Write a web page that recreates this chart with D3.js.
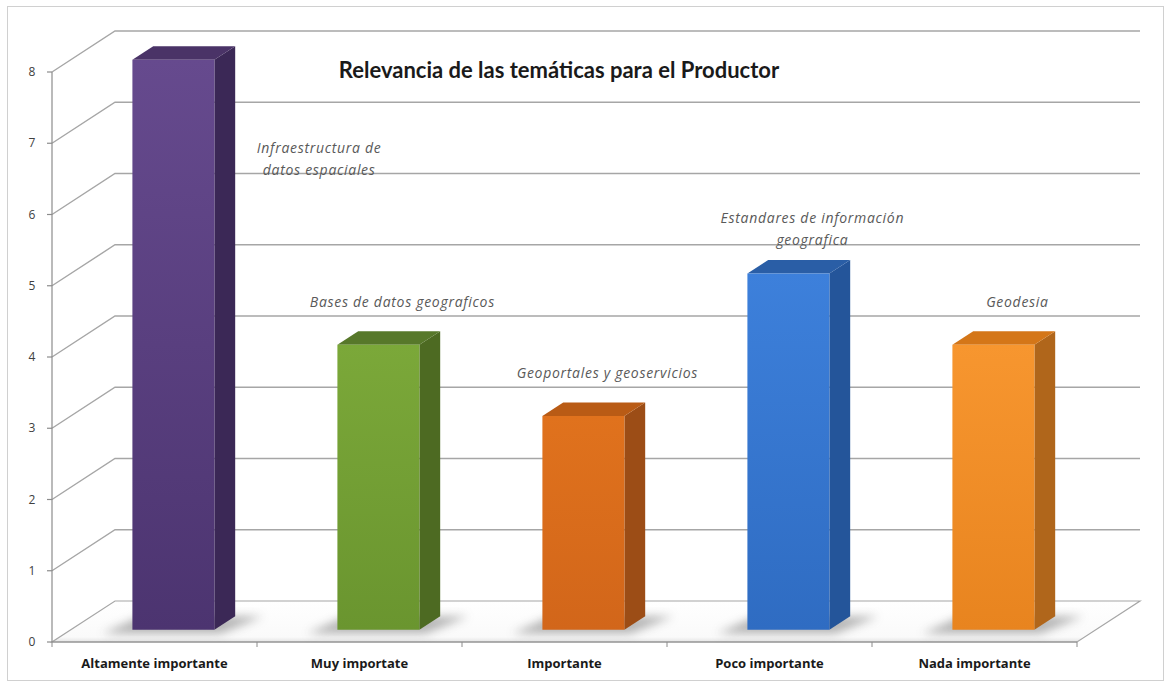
<!DOCTYPE html>
<html>
<head>
<meta charset="utf-8">
<script src="https://cdn.jsdelivr.net/npm/d3@7"></script>
<style>
  html, body { margin: 0; padding: 0; background: #fff; }
  svg { display: block; }
</style>
</head>
<body>
<svg id="chart" width="1171" height="684"></svg>
<script>
// ---- data ----
const categories = ["Altamente importante", "Muy importate", "Importante", "Poco importante", "Nada importante"];
const values = [8, 4, 3, 5, 4];
const barLabels = ["Infraestructura de\ndatos espaciales", "Bases de datos geograficos", "Geoportales y geoservicios", "Estandares de información\ngeografica", "Geodesia"];
const yTicks = [0, 1, 2, 3, 4, 5, 6, 7, 8];
const title = "Relevancia de las temáticas para el Productor";

// ---- styles ----
const barColors = [
  { top: "#4a3367", front: ["#664a8e", "#4c3470"], side: "#3b2856" },
  { top: "#57782a", front: ["#7ba839", "#6a952f"], side: "#4d6a22" },
  { top: "#b95b15", front: ["#e0721d", "#d2661a"], side: "#9c4d16" },
  { top: "#2a5ea6", front: ["#3d80db", "#2f6cc2"], side: "#24559a" },
  { top: "#d47618", front: ["#f7962f", "#e8841f"], side: "#b0661b" }
];

const svg = d3.select("#chart");

// border
svg.append("rect").attr("x", 7.5).attr("y", 6.5).attr("width", 1156).attr("height", 674)
  .attr("fill", "#fff").attr("stroke", "#d0d0d0").attr("stroke-width", 1);

// ---- projection ----
const frontLeft = 52, frontRight = 1077;
const depth = { dx: 63, dy: -41 };
const x = d3.scaleBand().domain(categories).range([frontLeft, frontRight]);
const y = d3.scaleLinear().domain([0, 8]).range([642, 72]);
const P = (px, py, d) => [px + depth.dx * d, py + depth.dy * d];

const defs = svg.append("defs");
const blur = defs.append("filter").attr("id", "blur").attr("x", "-50%").attr("y", "-50%").attr("width", "200%").attr("height", "200%");
blur.append("feGaussianBlur").attr("stdDeviation", 5);

const grid = svg.append("g");
const gridColor = "#a6a6a6";

// back wall + side wall gridlines
yTicks.forEach(t => {
  if (t === 0) return;
  const f = [frontLeft, y(t)];
  const b = P(frontLeft, y(t), 1);
  const br = P(frontRight, y(t), 1);
  grid.append("path")
    .attr("d", d3.line()([f, b, br]))
    .attr("fill", "none").attr("stroke", gridColor).attr("stroke-width", 1.4);
});

// floor
const fl = [[frontLeft, y(0)], [frontRight, y(0)], P(frontRight, y(0), 1), P(frontLeft, y(0), 1)];
const floorGrad = defs.append("linearGradient").attr("id", "floorGrad").attr("x1", 0).attr("y1", 1).attr("x2", 0).attr("y2", 0);
floorGrad.append("stop").attr("offset", "0").attr("stop-color", "#e4e4e4");
floorGrad.append("stop").attr("offset", "0.12").attr("stop-color", "#fafafa");
floorGrad.append("stop").attr("offset", "1").attr("stop-color", "#ffffff");
grid.append("path").attr("d", d3.line()(fl) + "Z")
  .attr("fill", "url(#floorGrad)").attr("stroke", gridColor).attr("stroke-width", 1.2);

// y axis
const ax = svg.append("g");
ax.append("line").attr("x1", frontLeft).attr("x2", frontLeft).attr("y1", y(8)).attr("y2", y(0))
  .attr("stroke", "#8c8c8c").attr("stroke-width", 1.2);
yTicks.forEach(t => {
  ax.append("line").attr("x1", frontLeft - 5).attr("x2", frontLeft).attr("y1", y(t)).attr("y2", y(t))
    .attr("stroke", "#8c8c8c").attr("stroke-width", 1.2);
  ax.append("text").attr("x", frontLeft - 20).attr("y", y(t)).attr("dy", "0.35em")
    .attr("text-anchor", "middle").attr("font-family", "'Open Sans', Lato, sans-serif")
    .attr("font-size", 12).attr("fill", "#404040").text(t);
});
// x axis ticks
const bounds = categories.map(c => x(c)).concat([frontRight]);
bounds.forEach(b => {
  ax.append("line").attr("x1", b).attr("x2", b).attr("y1", y(0)).attr("y2", y(0) + 5)
    .attr("stroke", "#8c8c8c").attr("stroke-width", 1);
});
ax.append("line").attr("x1", frontLeft).attr("x2", frontRight).attr("y1", y(0)).attr("y2", y(0))
  .attr("stroke", "#8c8c8c").attr("stroke-width", 1.2);
categories.forEach(c => {
  ax.append("text").attr("x", x(c) + x.bandwidth() / 2).attr("y", 668)
    .attr("text-anchor", "middle").attr("font-family", "'Open Sans', Lato, sans-serif")
    .attr("font-weight", "bold").attr("font-size", 13).attr("fill", "#1a1a1a").text(c);
});

// ---- bars ----
const barW = x.bandwidth() * 0.4;
const dFront = 0.30, dBack = 0.63;
const bars = svg.append("g");
categories.forEach((c, i) => {
  const col = barColors[i];
  const cx = x(c) + x.bandwidth() / 2;
  const x0 = cx - barW / 2, x1 = cx + barW / 2;
  const yb = y(0), yt = y(values[i]);
  const f0b = P(x0, yb, dFront), f1b = P(x1, yb, dFront), f0t = P(x0, yt, dFront), f1t = P(x1, yt, dFront);
  const b0b = P(x0, yb, dBack), b1b = P(x1, yb, dBack), b0t = P(x0, yt, dBack), b1t = P(x1, yt, dBack);
  // shadow
  bars.append("path")
    .attr("d", d3.line()([[f0b[0] - 30, f0b[1] + 4], [f1b[0] + 6, f1b[1] + 4], [b1b[0] + 28, b1b[1]], [b0b[0] - 12, b0b[1]]]) + "Z")
    .attr("fill", "#6e6e6e").attr("opacity", 0.5).attr("filter", "url(#blur)");
  const g = defs.append("linearGradient").attr("id", "fg" + i).attr("x1", 0).attr("y1", 0).attr("x2", 0).attr("y2", 1);
  g.append("stop").attr("offset", 0).attr("stop-color", col.front[0]);
  g.append("stop").attr("offset", 1).attr("stop-color", col.front[1]);
  bars.append("path").attr("d", d3.line()([f1b, b1b, b1t, f1t]) + "Z").attr("fill", col.side);
  bars.append("path").attr("d", d3.line()([f0t, f1t, b1t, b0t]) + "Z").attr("fill", col.top);
  bars.append("path").attr("d", d3.line()([f0b, f1b, f1t, f0t]) + "Z").attr("fill", "url(#fg" + i + ")");

  // label
  const lines = barLabels[i].split("\n");
  const lh = 22;
  let lx, ly;
  if (values[i] >= 7) { // no room above: place beside the bar
    lx = b1t[0] + 84; ly = f0t[1] + 93;
  } else {
    lx = (f0t[0] + f1t[0]) / 2 + 24;
    ly = f0t[1] - 38 - (lines.length - 1) * lh;
    if (lines.length > 1) ly += 10;
  }
  const t = bars.append("text").attr("text-anchor", "middle")
    .attr("font-family", "'Open Sans', Lato, sans-serif").attr("font-style", "italic")
    .attr("font-size", 14).attr("letter-spacing", 0.7).attr("fill", "#595959");
  lines.forEach((ln, k) => t.append("tspan").attr("x", lx).attr("y", ly + k * lh).text(ln));
});

// title
svg.append("text").attr("x", 559).attr("y", 78).attr("text-anchor", "middle")
  .attr("font-family", "Lato, 'Open Sans', sans-serif").attr("font-weight", "bold")
  .attr("font-size", 22).attr("fill", "#1a1a1a").text(title);
</script>
</body>
</html>
